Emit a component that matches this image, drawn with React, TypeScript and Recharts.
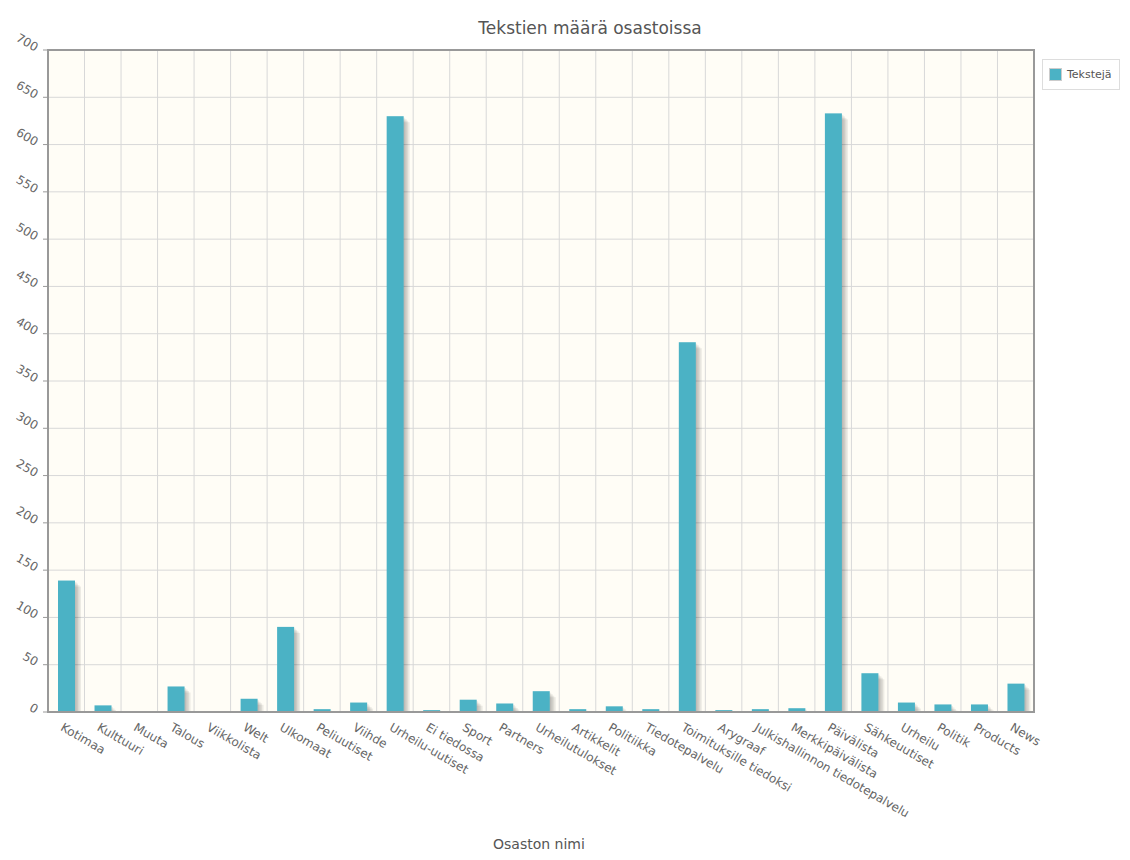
import { BarChart, Bar, XAxis, YAxis, CartesianGrid, ReferenceArea } from 'recharts';

const osastot = [
  'Kotimaa', 'Kulttuuri', 'Muuta', 'Talous', 'Viikkolista', 'Welt', 'Ulkomaat', 'Peliuutiset', 'Viihde',
  'Urheilu-uutiset', 'Ei tiedossa', 'Sport', 'Partners', 'Urheilutulokset', 'Artikkelit', 'Politiikka',
  'Tiedotepalvelu', 'Toimituksille tiedoksi', 'Arygraaf', 'Julkishallinnon tiedotepalvelu',
  'Merkkipäivälista', 'Päivälista', 'Sähkeuutiset', 'Urheilu', 'Politik', 'Products', 'News',
];
const tekstit = [139, 7, 1, 27, 1, 14, 90, 3, 10, 630, 2, 13, 9, 22, 3, 6, 3, 391, 2, 3, 4, 633, 41, 10, 8, 8, 30];
const yTicks = [0, 50, 100, 150, 200, 250, 300, 350, 400, 450, 500, 550, 600, 650, 700];

const data = osastot.map((name, i) => ({ name, tekstit: tekstit[i] }));

const FONT = '"DejaVu Sans", Verdana, sans-serif';

// jqplot-tyylinen varjo palkin oikealle puolelle
const ShadowBar = (props: any) => {
  const { x, y, width, height } = props;
  if (!height || height <= 0) return null;
  const shadows = [1, 2, 3, 4].map((i) => {
    const off = i * 1.5;
    const h = Math.max(height - off, 0);
    return <rect key={i} x={x + off} y={y + off} width={width} height={h} fill="#000" fillOpacity={0.07} />;
  });
  return (
    <g>
      {shadows}
      <rect x={x} y={y} width={width} height={height} fill="#4bb2c5" />
    </g>
  );
};

const YTick = (props: any) => {
  const { x, y, payload } = props;
  return (
    <text x={x - 5} y={y + 2} textAnchor="end" transform={`rotate(30 ${x - 5} ${y})`} fill="#666" fontSize={12} fontFamily={FONT}>
      {payload.value}
    </text>
  );
};

const XTick = (props: any) => {
  const { x, y, payload } = props;
  return (
    <text x={x - 2} y={y + 11} textAnchor="start" transform={`rotate(30 ${x - 2} ${y + 2})`} fill="#666" fontSize={12} fontFamily={FONT}>
      {payload.value}
    </text>
  );
};

export default function App() {
  return (
    <div style={{ position: 'relative', width: 1114, height: 844, fontFamily: FONT }}>
      <div style={{ position: 'absolute', left: 0, width: 1164, top: 10, textAlign: 'center', fontSize: 17, color: '#555' }}>
        Tekstien määrä osastoissa
      </div>
      <BarChart
        width={1114}
        height={844}
        data={data}
        margin={{ top: 42, right: 88, left: 0, bottom: 0 }}
        barSize={17}
      >
        <CartesianGrid
          stroke="#d8d8d8"
          strokeWidth={1}
          fill="#fffdf6"
          verticalCoordinatesGenerator={({ offset }: any) =>
            osastot.slice(1).map((_, i) => offset.left + ((i + 1) * offset.width) / osastot.length)
          }
        />
        <XAxis
          dataKey="name"
          interval={0}
          height={140}
          tick={<XTick />}
          tickLine={false}
          axisLine={{ stroke: '#999', strokeWidth: 2 }}
        />
        <YAxis
          domain={[0, 700]}
          ticks={yTicks}
          width={40}
          tick={<YTick />}
          tickSize={5}
          tickLine={{ stroke: '#999' }}
          axisLine={{ stroke: '#999', strokeWidth: 2 }}
        />
        <ReferenceArea y1={0} y2={700} fill="none" stroke="#999" strokeWidth={2} ifOverflow="visible" />
        <Bar dataKey="tekstit" fill="#4bb2c5" isAnimationActive={false} shape={(p: any) => <ShadowBar {...p} />} />
      </BarChart>
      <div style={{ position: 'absolute', left: 485, top: 828, fontSize: 14, color: '#555', lineHeight: '16px' }}>Osaston nimi</div>
      <div
        style={{
          position: 'absolute', left: 1034, top: 51, width: 78, height: 31, border: '1px solid #ddd',
          display: 'flex', alignItems: 'center', fontSize: 11, color: '#555', background: '#fff', boxSizing: 'border-box',
        }}
      >
        <span style={{ display: 'inline-block', width: 11, height: 11, background: '#4bb2c5', border: '1px solid #ccc', margin: '0 5px 0 6px' }} />
        Tekstejä
      </div>
    </div>
  );
}
